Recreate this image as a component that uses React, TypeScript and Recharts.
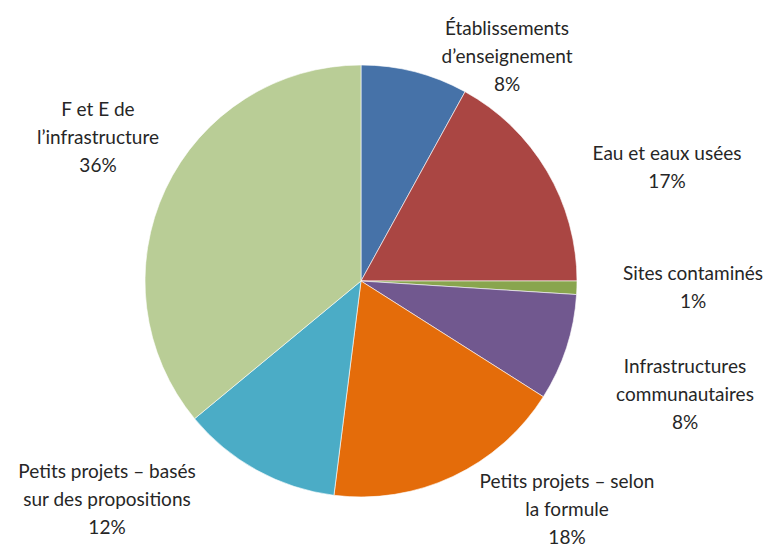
import React from "react";
import { PieChart, Pie, Cell } from "recharts";

const categories = [
  ["Établissements", "d\u2019enseignement"],
  ["Eau et eaux usées"],
  ["Sites contaminés"],
  ["Infrastructures", "communautaires"],
  ["Petits projets \u2013 selon", "la formule"],
  ["Petits projets \u2013 basés", "sur des propositions"],
  ["F et E de", "l\u2019infrastructure"],
];
const values = [8, 17, 1, 8, 18, 12, 36];
const percentLabels = ["8%", "17%", "1%", "8%", "18%", "12%", "36%"];
const colors = ["#4672A8", "#AA4643", "#89A54E", "#71588F", "#E46C0A", "#4BACC6", "#B9CD96"];

// label block centre (x) and first-line y, relative to pie centre
const labelOffsets: [number, number][] = [
  [146, -254],
  [306, -129],
  [332, -9],
  [324, 84],
  [206, 199],
  [-254, 189],
  [-263, -173],
];

const data = categories.map((c, i) => ({ name: c.join(" "), value: values[i] }));

const CX = 361;
const CY = 281;
const LINE_H = 28;

const renderLabel = (props: any) => {
  const i = props.index;
  const lines = [...categories[i], percentLabels[i]];
  const [dx, dy] = labelOffsets[i];
  const x = props.cx + dx;
  const y = props.cy + dy;
  return (
    <text
      x={x}
      y={y}
      textAnchor="middle"
      dominantBaseline="central"
      fill="#262626"
      fontFamily="Lato, 'Open Sans', sans-serif"
      fontSize={19}
    >
      {lines.map((l, k) => (
        <tspan key={k} x={x} y={y + k * LINE_H}>
          {l}
        </tspan>
      ))}
    </text>
  );
};

export default function App() {
  return (
    <div style={{ position: "absolute", left: 0, top: 0, background: "#fff" }}>
      <PieChart width={781} height={547} margin={{ top: 0, right: 0, bottom: 0, left: 0 }}>
        <Pie
          data={data}
          dataKey="value"
          nameKey="name"
          cx={CX}
          cy={CY}
          outerRadius={216}
          startAngle={90}
          endAngle={-270}
          stroke="#ffffff"
          strokeWidth={0.6}
          label={renderLabel}
          labelLine={false}
          isAnimationActive={false}
        >
          {data.map((_, i) => (
            <Cell key={i} fill={colors[i]} />
          ))}
        </Pie>
      </PieChart>
    </div>
  );
}
